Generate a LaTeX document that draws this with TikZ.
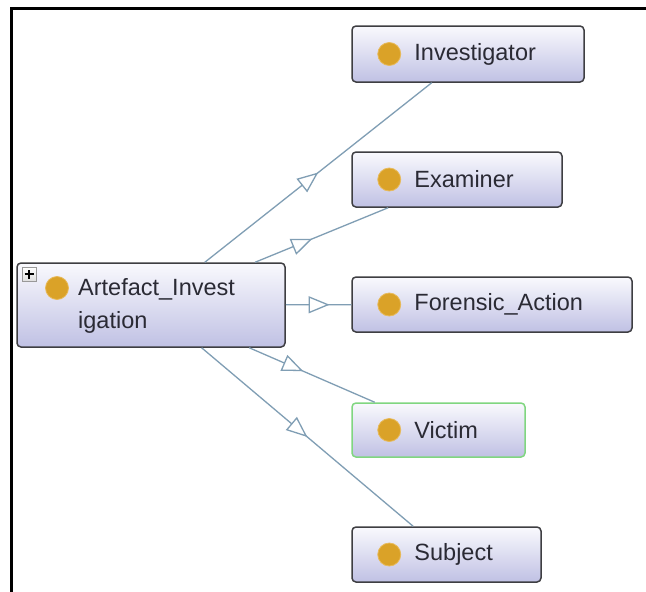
\documentclass[tikz,border=0pt]{standalone}
\usepackage{fontspec}
\setmainfont{Liberation Sans}
\usetikzlibrary{arrows.meta,decorations.markings}

\definecolor{boxtop}{RGB}{249,249,253}
\definecolor{boxbot}{RGB}{192,193,228}
\definecolor{boxline}{RGB}{62,62,66}
\definecolor{victimline}{RGB}{128,214,128}
\definecolor{dotfill}{RGB}{218,162,40}
\definecolor{dotedge}{RGB}{232,186,90}
\definecolor{edgecol}{RGB}{128,158,180}
\definecolor{labelcol}{RGB}{42,42,52}

\tikzset{
  classbox/.style={draw=boxline, line width=1.5pt, rounded corners=4pt,
    top color=boxtop, bottom color=boxbot, inner sep=0pt},
  selected/.style={draw=victimline},
  classdot/.style={circle, fill=dotfill, draw=dotedge, line width=0.8pt,
    minimum size=23pt, inner sep=0pt},
  classlabel/.style={anchor=west, inner sep=0pt, text=labelcol, align=left,
    font=\fontsize{23.5}{33}\selectfont},
  expander/.style={draw=gray!80, top color=white, bottom color=gray!25,
    line width=0.9pt, minimum size=14pt, inner sep=0pt},
  subclass/.style={draw=edgecol, line width=1.3pt, postaction={decorate},
    decoration={markings, mark=at position #1 with
      {\arrow{Triangle[length=21pt, width=17pt, fill=white, color=edgecol, line width=1.3pt]}}}},
}

% name, centre x, centre y, width, height, label, extra box style
\newcommand\owlclass[7]{%
  \node[classbox, #7, minimum width=#4pt, minimum height=#5pt] (#1) at (#2,#3) {};
  \node[classdot] (#1dot) at ([xshift=38pt]#1.west) {};
  \node[classlabel] (#1lbl) at ([xshift=63pt]#1.west) {#6};
}

\begin{document}
\begin{tikzpicture}[x=1pt, y=-1pt]
  \useasboundingbox (0,0) rectangle (646,592);
  \fill[white] (0,0) rectangle (646,592);

  % frame along the top and left edges
  \draw[line width=3pt, line join=miter] (11,592) -- (11,8) -- (646,8);

  % root class with its expander button
  \node[classbox, minimum width=268pt, minimum height=84pt] (art) at (151,305) {};
  \node[classdot] (artdot) at (57,288) {};
  \node[classlabel] (artlbl) at (78,306) {Artefact\_Invest\\igation};
  \node[expander] (artplus) at (29,274) {};
  \draw[line width=1.8pt] ([xshift=-4.5pt]artplus.center) -- ([xshift=4.5pt]artplus.center);
  \draw[line width=1.8pt] ([yshift=-4.5pt]artplus.center) -- ([yshift=4.5pt]artplus.center);

  % related classes
  \owlclass{inv}{468}{54}{232}{56}{Investigator}{}
  \owlclass{exa}{457}{179.5}{210}{55}{Examiner}{}
  \owlclass{for}{492}{304.5}{280}{55}{Forensic\_Action}{}
  \owlclass{vic}{438.5}{430}{173}{54}{Victim}{selected}
  \owlclass{sub}{446.5}{554.5}{189}{55}{Subject}{}

  % connectors with open triangle heads
  \draw[subclass=0.5]  (art) -- (inv);
  \draw[subclass=0.43] (art) -- (exa);
  \draw[subclass=0.67] (art) -- (for);
  \draw[subclass=0.43] (art) -- (vic);
  \draw[subclass=0.5]  (art) -- (sub);
\end{tikzpicture}
\end{document}
